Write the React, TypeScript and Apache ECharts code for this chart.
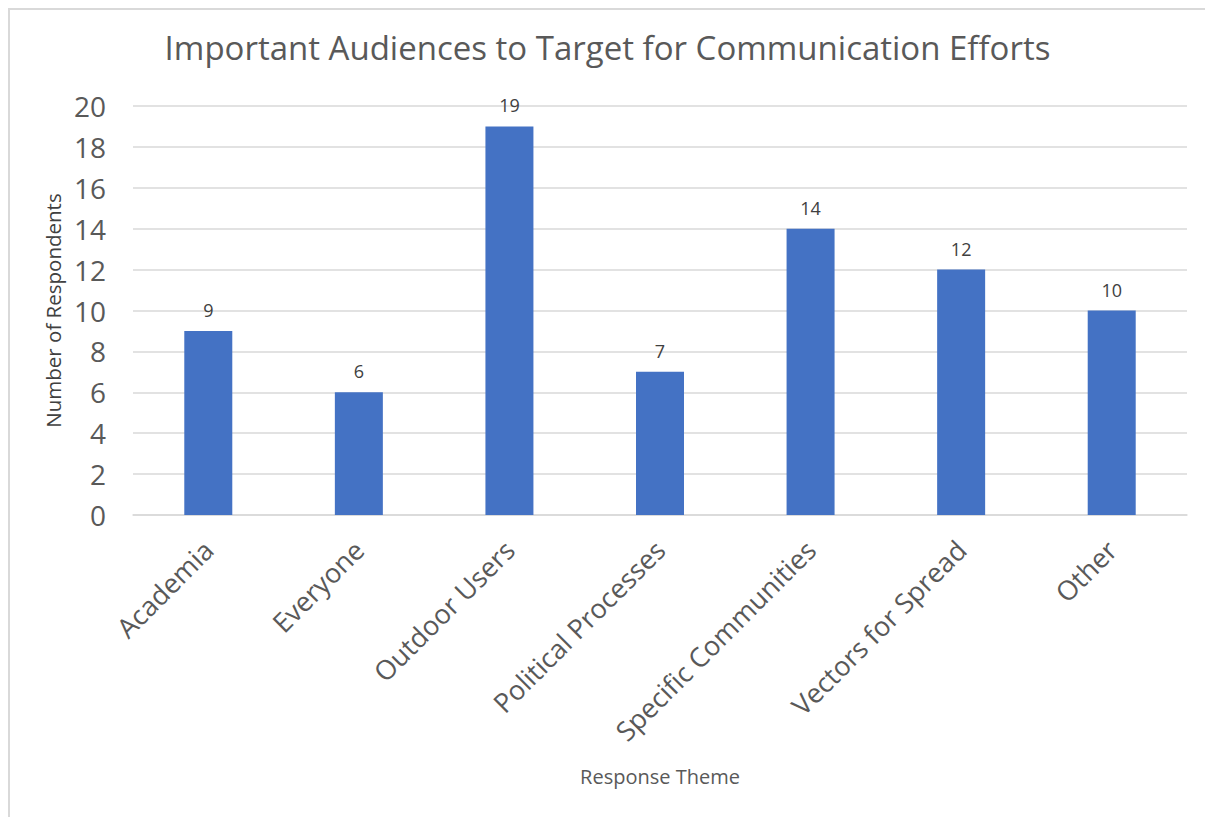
import React, { useEffect, useRef } from "react";
import * as echarts from "echarts";

const categories = [
  "Academia",
  "Everyone",
  "Outdoor Users",
  "Political Processes",
  "Specific Communities",
  "Vectors for Spread",
  "Other",
];
const respondents = [9, 6, 19, 7, 14, 12, 10];
const yTicks = { min: 0, max: 20, interval: 2 };

const FONT = "'Open Sans', 'Noto Sans', sans-serif";

export default function App() {
  const ref = useRef<HTMLDivElement>(null);

  useEffect(() => {
    if (!ref.current) return;
    const chart = echarts.init(ref.current, undefined, { renderer: "svg" });
    chart.setOption({
      animation: false,
      backgroundColor: "#ffffff",
      textStyle: { fontFamily: FONT },
      title: {
        text: "Important Audiences to Target for Communication Efforts",
        left: "center",
        top: 16,
        textStyle: {
          fontFamily: FONT,
          fontSize: 33,
          fontWeight: "normal",
          color: "#595959",
        },
      },
      grid: { left: 123, right: 18, top: 96, bottom: 302 },
      xAxis: {
        type: "category",
        data: categories,
        name: "Response Theme",
        nameLocation: "middle",
        nameGap: 251,
        nameTextStyle: { fontFamily: FONT, fontSize: 20, color: "#595959" },
        axisLine: { lineStyle: { color: "#d9d9d9", width: 1.5 } },
        axisTick: { show: false },
        axisLabel: {
          rotate: 45,
          interval: 0,
          margin: 30,
          fontFamily: FONT,
          fontSize: 27,
          color: "#595959",
        },
      },
      yAxis: {
        type: "value",
        min: yTicks.min,
        max: yTicks.max,
        interval: yTicks.interval,
        name: "Number of Respondents",
        nameLocation: "middle",
        nameRotate: 90,
        nameGap: 70,
        nameTextStyle: { fontFamily: FONT, fontSize: 20.5, color: "#404040" },
        axisLine: { show: false },
        axisTick: { show: false },
        splitLine: { lineStyle: { color: "#d9d9d9", width: 1.5 } },
        axisLabel: {
          margin: 27,
          fontFamily: FONT,
          fontSize: 28,
          color: "#595959",
        },
      },
      series: [
        {
          type: "bar",
          data: respondents,
          barWidth: 48,
          itemStyle: { color: "#4472C4" },
          label: {
            show: true,
            position: "top",
            distance: 12,
            fontFamily: FONT,
            fontSize: 18,
            color: "#404040",
          },
        },
      ],
    });
    return () => chart.dispose();
  }, []);

  return (
    <div
      style={{
        position: "fixed",
        left: 8,
        top: 8,
        width: 1197,
        height: 809,
        borderTop: "2px solid #d9d9d9",
        borderLeft: "2px solid #d9d9d9",
        background: "#ffffff",
        boxSizing: "border-box",
      }}
    >
      <div ref={ref} style={{ width: 1195, height: 807 }} />
    </div>
  );
}
